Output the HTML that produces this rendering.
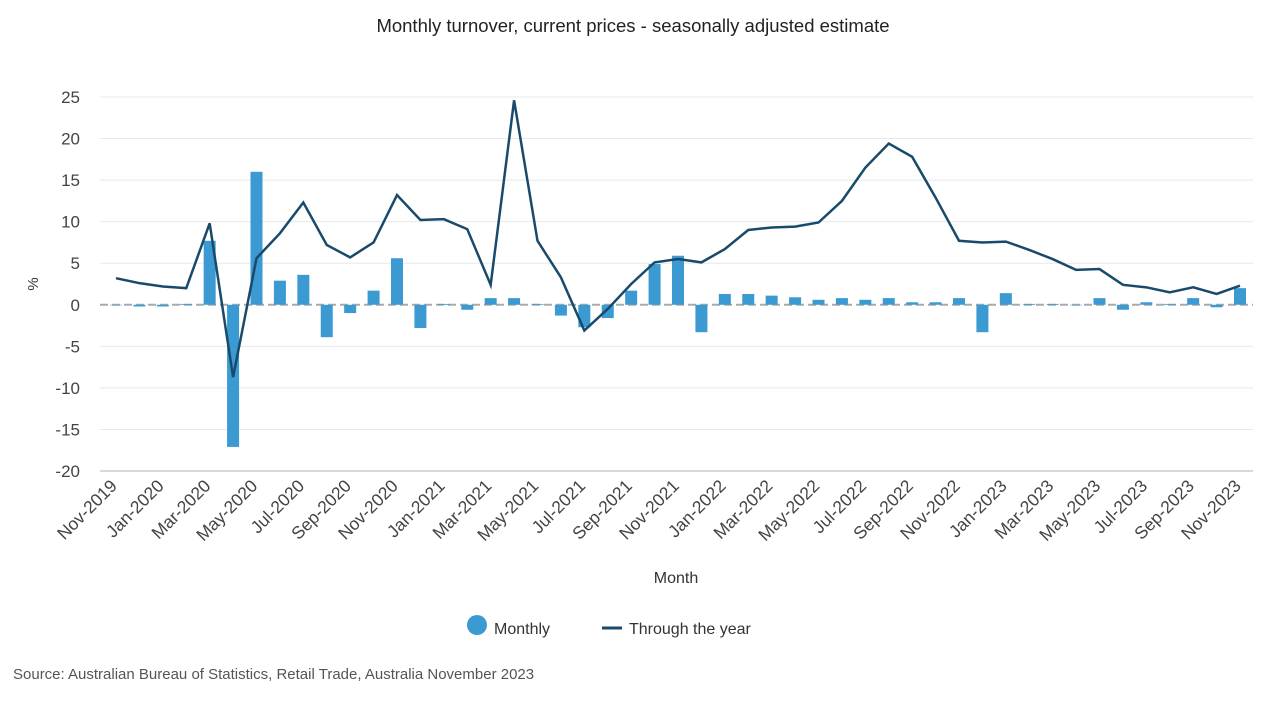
<!DOCTYPE html>
<html><head><meta charset="utf-8">
<style>
html,body{margin:0;padding:0;background:#fff;}
body{width:1266px;height:703px;overflow:hidden;font-family:"Liberation Sans",sans-serif;}
svg text{font-family:"Liberation Sans",sans-serif;}
</style></head>
<body>
<svg id="chart" width="1266" height="703" viewBox="0 0 1266 703">
<text x="633" y="32" text-anchor="middle" font-size="18.5" fill="#222">Monthly turnover, current prices - seasonally adjusted estimate</text>
<g id="grid"></g>
<g id="yticks"></g>
<g id="bars"></g>
<g id="line"></g>
<g id="xticks"></g>
<text x="38" y="284" text-anchor="middle" font-size="15" fill="#333" transform="rotate(-90 38 284)">%</text>
<text x="676" y="583" text-anchor="middle" font-size="16" fill="#333">Month</text>
<g>
<circle cx="477" cy="625" r="10" fill="#3b9ad2"/>
<text x="494" y="634" font-size="16" fill="#333">Monthly</text>
</g>
<g>
<line x1="602" y1="628" x2="622" y2="628" stroke="#1a4a6b" stroke-width="3"/>
<text x="629" y="634" font-size="16" fill="#333">Through the year</text>
</g>
<text x="13" y="679" font-size="15" fill="#555">Source: Australian Bureau of Statistics, Retail Trade, Australia November 2023</text>
</svg>
<script>
const months = ["Nov-2019","Dec-2019","Jan-2020","Feb-2020","Mar-2020","Apr-2020","May-2020","Jun-2020","Jul-2020","Aug-2020","Sep-2020","Oct-2020","Nov-2020","Dec-2020","Jan-2021","Feb-2021","Mar-2021","Apr-2021","May-2021","Jun-2021","Jul-2021","Aug-2021","Sep-2021","Oct-2021","Nov-2021","Dec-2021","Jan-2022","Feb-2022","Mar-2022","Apr-2022","May-2022","Jun-2022","Jul-2022","Aug-2022","Sep-2022","Oct-2022","Nov-2022","Dec-2022","Jan-2023","Feb-2023","Mar-2023","Apr-2023","May-2023","Jun-2023","Jul-2023","Aug-2023","Sep-2023","Oct-2023","Nov-2023"];
const monthly = [0.0,-0.2,-0.2,0.1,7.7,-17.1,16.0,2.9,3.6,-3.9,-1.0,1.7,5.6,-2.8,0.1,-0.6,0.8,0.8,0.1,-1.3,-2.7,-1.6,1.7,4.9,5.9,-3.3,1.3,1.3,1.1,0.9,0.6,0.8,0.6,0.8,0.3,0.3,0.8,-3.3,1.4,0.1,0.1,0.0,0.8,-0.6,0.3,0.1,0.8,-0.3,2.0];
const throughYear = [3.2,2.6,2.2,2.0,9.8,-8.7,5.6,8.6,12.3,7.2,5.7,7.5,13.2,10.2,10.3,9.1,2.4,24.6,7.7,3.3,-3.1,-0.5,2.5,5.1,5.5,5.1,6.7,9.0,9.3,9.4,9.9,12.5,16.5,19.4,17.8,12.9,7.7,7.5,7.6,6.6,5.5,4.2,4.3,2.4,2.1,1.5,2.1,1.3,2.3];
const yTicks = [25,20,15,10,5,0,-5,-10,-15,-20];

const NS="http://www.w3.org/2000/svg";
const x0=116, x1=1240, yTop=97, yBot=471, vMax=25, vMin=-20;
function xs(i){return x0+(x1-x0)*i/(months.length-1);}
function ys(v){return yTop+(vMax-v)*(yBot-yTop)/(vMax-vMin);}
function mk(tag,attrs,parent){const e=document.createElementNS(NS,tag);for(const k in attrs)e.setAttribute(k,attrs[k]);parent.appendChild(e);return e;}

const grid=document.getElementById('grid'), yt=document.getElementById('yticks');
yTicks.forEach(v=>{
  if(v!==0){
    const g=mk('line',{x1:100,x2:1253,y1:ys(v),y2:ys(v),stroke:v===-20?'#d6d9de':'#e6e8eb','stroke-width':v===-20?2:1},grid);
    
    
  }
  const t=mk('text',{x:80,y:ys(v)+6,'text-anchor':'end','font-size':17,fill:'#444'},yt);
  t.textContent=v;
  
  
});
const zl=mk('line',{x1:100,x2:1253,y1:ys(0),y2:ys(0),stroke:'#aaa','stroke-width':2,'stroke-dasharray':'8,4'},grid);



const bars=document.getElementById('bars');
monthly.forEach((v,i)=>{
  const y=Math.min(ys(v),ys(0)), h=Math.abs(ys(v)-ys(0));
  const r=mk('rect',{x:xs(i)-6,y:y,width:12,height:Math.max(h,0.5),fill:'#3b9ad2'},bars);
  
  
});

const line=document.getElementById('line');
const p=mk('polyline',{points:throughYear.map((v,i)=>xs(i)+','+ys(v)).join(' '),fill:'none',stroke:'#1a4a6b','stroke-width':2.5,'stroke-linejoin':'miter'},line);



const xt=document.getElementById('xticks');
months.forEach((m,i)=>{
  if(i%2!==0)return;
  const x=xs(i)+2, y=487;
  const t=mk('text',{x:x,y:y,'text-anchor':'end','font-size':17.5,fill:'#444',transform:'rotate(-45 '+x+' '+y+')'},xt);
  t.textContent=m;
  
  
});
</script>
</body></html>
